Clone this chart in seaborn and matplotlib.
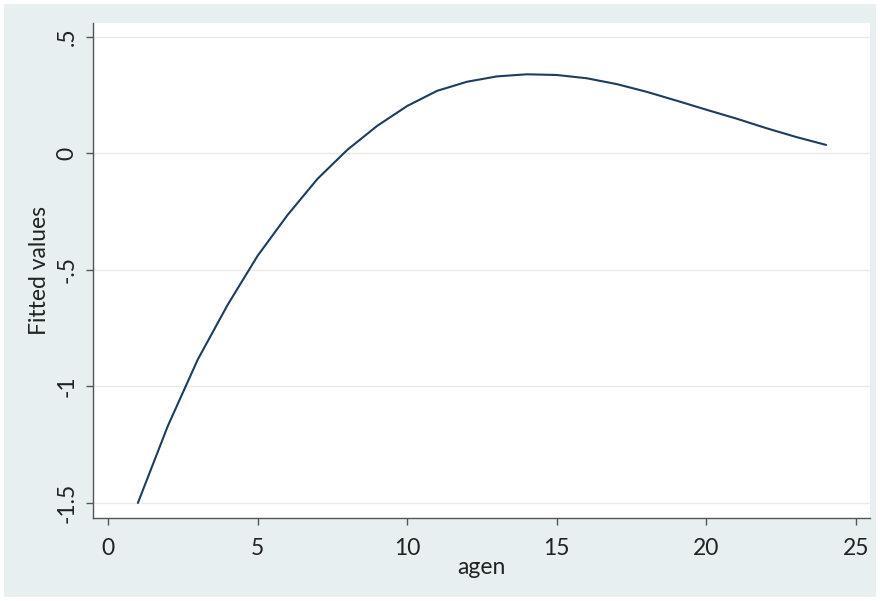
import pandas as pd
import matplotlib.pyplot as plt
import seaborn as sns
from matplotlib.patches import Rectangle

# valores
agen = [1, 2, 3, 4, 5, 6, 7, 8, 9, 10, 11, 12,
        13, 14, 15, 16, 17, 18, 19, 20, 21, 22, 23, 24]
fitted = [-1.50, -1.17, -0.885, -0.65, -0.44, -0.265, -0.11, 0.015, 0.118, 0.203, 0.268, 0.307,
          0.330, 0.339, 0.336, 0.322, 0.297, 0.264, 0.226, 0.187, 0.149, 0.108, 0.070, 0.036]
xticks = [0, 5, 10, 15, 20, 25]
yticks = [-1.5, -1, -0.5, 0, 0.5]
ytick_labels = ["-1.5", "-1", "-.5", "0", ".5"]

df = pd.DataFrame({"agen": agen, "fitted": fitted})

sns.set_style("white")
plt.rcParams["font.family"] = ["Lato", "DejaVu Sans"]

bg = "#e8eff1"
fig = plt.figure(figsize=(8.8, 6.01), dpi=100, facecolor=bg)
ax = fig.add_axes([0.1057, 0.138, 0.883, 0.8237])
ax.set_facecolor("white")

sns.lineplot(data=df, x="agen", y="fitted", ax=ax, color="#1c3d5e", linewidth=1.5)

ax.set_xlim(-0.5, 25.47)
ax.set_ylim(-1.565, 0.559)
ax.set_xticks(xticks)
ax.set_yticks(yticks)
ax.set_yticklabels(ytick_labels, rotation=90, va="center")
ax.grid(axis="y", color="#eaeaea", linewidth=1)
ax.grid(axis="x", visible=False)

for s in ["top", "right"]:
    ax.spines[s].set_visible(False)
for s in ["left", "bottom"]:
    ax.spines[s].set_color("#555555")
    ax.spines[s].set_linewidth(1)

ax.tick_params(axis="x", direction="out", length=5, width=1, color="#555555",
               labelsize=16.5, labelcolor="#222222", pad=9, bottom=True)
ax.tick_params(axis="y", direction="out", length=5, width=1, color="#555555",
               labelsize=16.5, labelcolor="#222222", pad=6, left=True)

ax.set_xlabel("agen", fontsize=16.5, color="#222222", labelpad=-1)
ax.set_ylabel("Fitted values", fontsize=16.5, color="#222222", labelpad=5)

# borda branca fina em volta da figura
fig.patches.append(Rectangle((0, 0), 1, 1, transform=fig.transFigure,
                             fill=False, edgecolor="white", linewidth=6, zorder=10))

fig.savefig("out.png", dpi=100, facecolor=bg)
